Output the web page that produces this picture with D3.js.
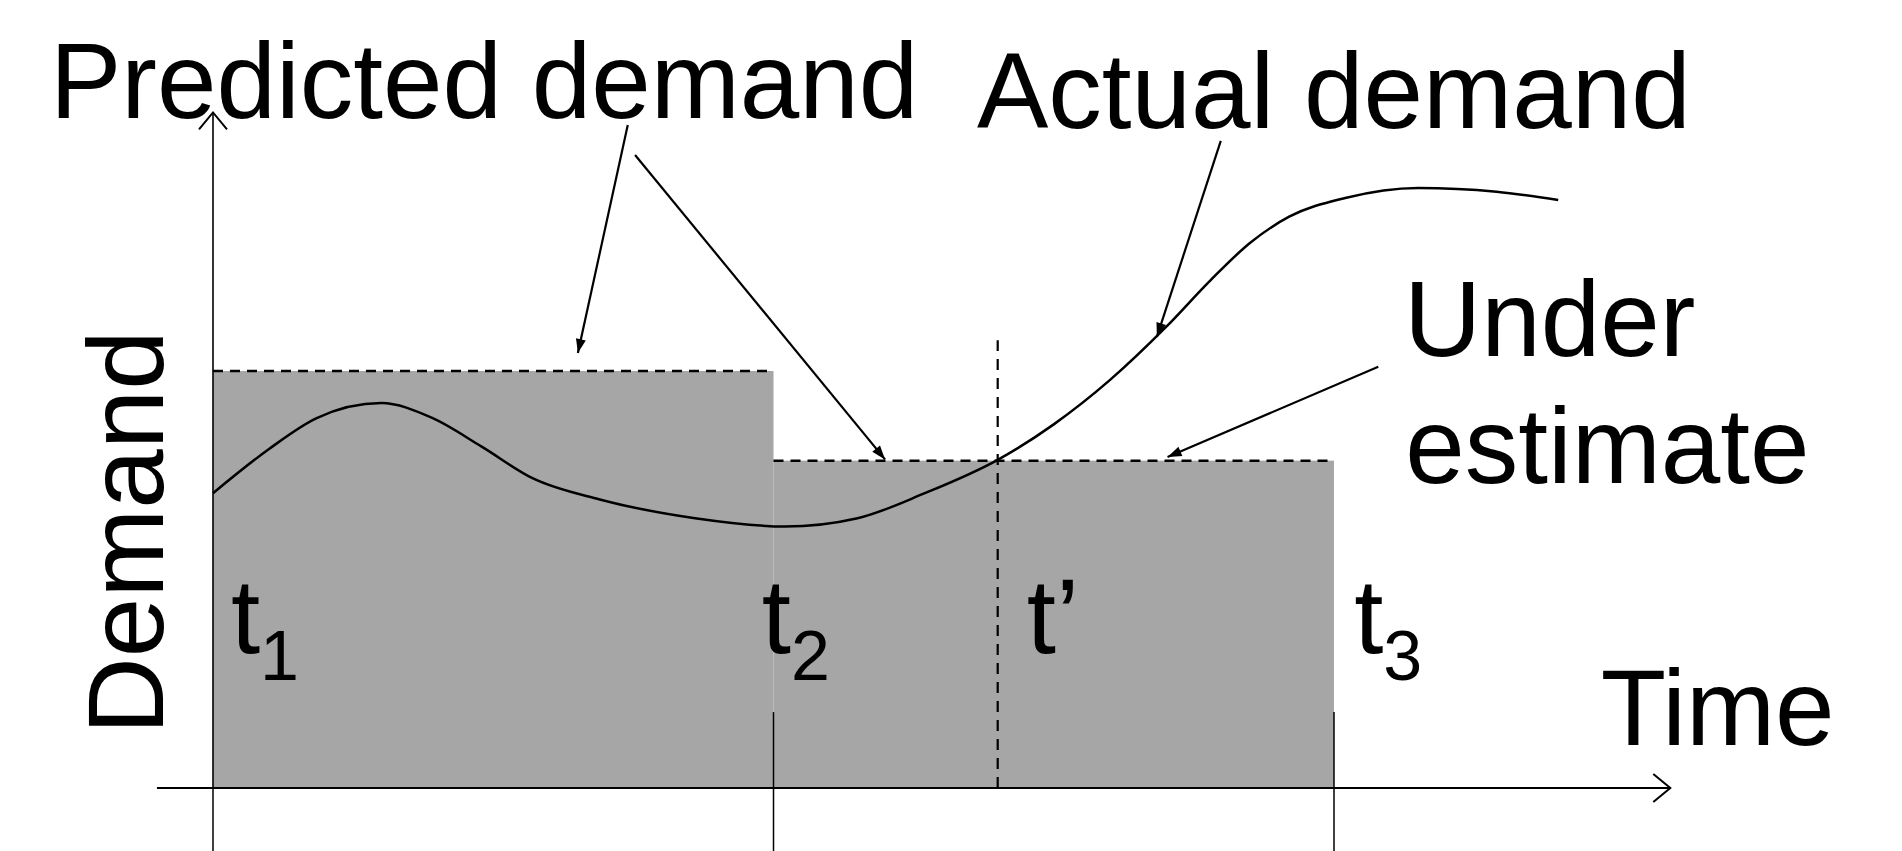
<!DOCTYPE html>
<html>
<head>
<meta charset="utf-8">
<script src="https://cdn.jsdelivr.net/npm/d3@7"></script>
<style>
body { margin: 0; background: #fff; }
text { font-family: "Liberation Sans", Arial, sans-serif; fill: #000; }
</style>
</head>
<body>
<script>
// time units: t1 = 0, t2 = 1, t3 = 2 ; demand units: first prediction = 10
var stepStart = [0, 1];
var stepEnd = [1, 2];
var stepLevel = [10, 7.85];

var actualTime = [0, 0.1, 0.185, 0.3, 0.39, 0.48, 0.57, 0.69, 0.86, 1.02, 1.15, 1.27,
                  1.40, 1.50, 1.60, 1.70, 1.78, 1.85, 1.92, 2.02, 2.15, 2.29, 2.40];
var actualDemand = [7.07, 8.13, 8.87, 9.23, 8.88, 8.18, 7.43, 6.92, 6.47, 6.27, 6.47, 7.07,
                    7.87, 8.72, 9.78, 11.05, 12.18, 13.07, 13.70, 14.15, 14.39, 14.30, 14.10];

var tickTimes = [0, 1, 2];
var tickSubs = ["1", "2", "3"];
var tPrime = 1.4;

var labelText = ["Predicted demand", "Actual demand", "Under", "estimate", "Time"];
var labelT = [-0.291, 1.363, 2.125, 2.127, 2.476];
var labelD = [16.07, 15.83, 10.36, 7.31, 1.03];

// annotation arrows: from (t, d) to (t, d)
var arrowFrom = [[0.740, 15.90], [0.753, 15.18], [1.798, 15.52], [2.079, 10.10]];
var arrowTo = [[0.651, 10.43], [1.199, 7.88], [1.684, 10.82], [1.703, 7.94]];

var width = 1902, height = 851;

var x = d3.scaleLinear().domain([0, 2]).range([213, 1334]);
var y = d3.scaleLinear().domain([0, 10]).range([788, 371]);

var svg = d3.select("body").append("svg")
    .attr("width", width)
    .attr("height", height);

var defs = svg.append("defs");
defs.append("marker")
    .attr("id", "head")
    .attr("markerUnits", "userSpaceOnUse")
    .attr("viewBox", "-15 -6 16 12")
    .attr("markerWidth", 16).attr("markerHeight", 12)
    .attr("refX", 0).attr("refY", 0)
    .attr("orient", "auto")
    .append("path")
    .attr("d", "M-14,-5L0,0L-14,5Z")
    .attr("fill", "#000");
defs.append("marker")
    .attr("id", "openHead")
    .attr("markerUnits", "userSpaceOnUse")
    .attr("viewBox", "-20 -16 22 32")
    .attr("markerWidth", 22).attr("markerHeight", 32)
    .attr("refX", 0).attr("refY", 0)
    .attr("orient", "auto")
    .append("path")
    .attr("d", "M-17,-14L0,0L-17,14")
    .attr("fill", "none")
    .attr("stroke", "#000")
    .attr("stroke-width", 2);

// predicted demand blocks
var steps = d3.range(stepLevel.length);
svg.append("g").selectAll("rect")
    .data(steps)
    .enter().append("rect")
    .attr("x", function(i) { return x(stepStart[i]); })
    .attr("y", function(i) { return y(stepLevel[i]); })
    .attr("width", function(i) { return x(stepEnd[i]) - x(stepStart[i]); })
    .attr("height", function(i) { return y(0) - y(stepLevel[i]); })
    .attr("fill", "#a6a6a6");

svg.append("g").selectAll("line")
    .data(steps)
    .enter().append("line")
    .attr("x1", function(i) { return x(stepStart[i]); })
    .attr("x2", function(i) { return x(stepEnd[i]); })
    .attr("y1", function(i) { return y(stepLevel[i]); })
    .attr("y2", function(i) { return y(stepLevel[i]); })
    .attr("stroke", "#000")
    .attr("stroke-width", 2.5)
    .attr("stroke-dasharray", "10,7");

// t' marker
svg.append("line")
    .attr("x1", x(tPrime)).attr("x2", x(tPrime))
    .attr("y1", y(0)).attr("y2", y(10.74))
    .attr("stroke", "#000")
    .attr("stroke-width", 2.2)
    .attr("stroke-dasharray", "11,8");

// tick lines for t1..t3 hanging below the time axis
svg.append("g").selectAll("line")
    .data(tickTimes)
    .enter().append("line")
    .attr("x1", function(d) { return x(d); })
    .attr("x2", function(d) { return x(d); })
    .attr("y1", function(d) { return d === 0 ? y(0) : y(1.82); })
    .attr("y2", y(-1.6))
    .attr("stroke", "#000")
    .attr("stroke-width", 1.5);

// axes
svg.append("line")
    .attr("x1", x(-0.10)).attr("x2", x(2.6))
    .attr("y1", y(0)).attr("y2", y(0))
    .attr("stroke", "#000")
    .attr("stroke-width", 2.2)
    .attr("marker-end", "url(#openHead)");
svg.append("line")
    .attr("x1", x(0)).attr("x2", x(0))
    .attr("y1", y(0)).attr("y2", y(16.2))
    .attr("stroke", "#000")
    .attr("stroke-width", 1.6)
    .attr("marker-end", "url(#openHead)");

// actual demand curve
var line = d3.line()
    .x(function(i) { return x(actualTime[i]); })
    .y(function(i) { return y(actualDemand[i]); })
    .curve(d3.curveMonotoneX);
svg.append("path")
    .attr("d", line(d3.range(actualTime.length)))
    .attr("fill", "none")
    .attr("stroke", "#000")
    .attr("stroke-width", 2.5);

// annotation arrows
svg.append("g").selectAll("line")
    .data(d3.range(arrowFrom.length))
    .enter().append("line")
    .attr("x1", function(i) { return x(arrowFrom[i][0]); })
    .attr("y1", function(i) { return y(arrowFrom[i][1]); })
    .attr("x2", function(i) { return x(arrowTo[i][0]); })
    .attr("y2", function(i) { return y(arrowTo[i][1]); })
    .attr("stroke", "#000")
    .attr("stroke-width", 2.2)
    .attr("marker-end", "url(#head)");

// labels
svg.append("g").selectAll("text")
    .data(d3.range(labelText.length))
    .enter().append("text")
    .attr("x", function(i) { return x(labelT[i]); })
    .attr("y", function(i) { return y(labelD[i]); })
    .attr("font-size", 107)
    .text(function(i) { return labelText[i]; });

svg.append("text")
    .attr("transform", "translate(" + x(-0.089) + "," + y(6.13) + ") rotate(-90)")
    .attr("text-anchor", "middle")
    .attr("font-size", 107)
    .text("Demand");

// t1, t2, t3 labels
var tickLabelX = [0.032, 0.979, 2.036];
var tl = svg.append("g").selectAll("text")
    .data(d3.range(tickTimes.length))
    .enter().append("text")
    .attr("x", function(i) { return x(tickLabelX[i]); })
    .attr("y", y(3.24))
    .attr("font-size", 105);
tl.append("tspan").text("t");
tl.append("tspan")
    .attr("font-size", 70)
    .attr("dy", 27)
    .text(function(i) { return tickSubs[i]; });

svg.append("text")
    .attr("x", x(1.452))
    .attr("y", y(3.24))
    .attr("font-size", 105)
    .text("t\u2019");
</script>
</body>
</html>
